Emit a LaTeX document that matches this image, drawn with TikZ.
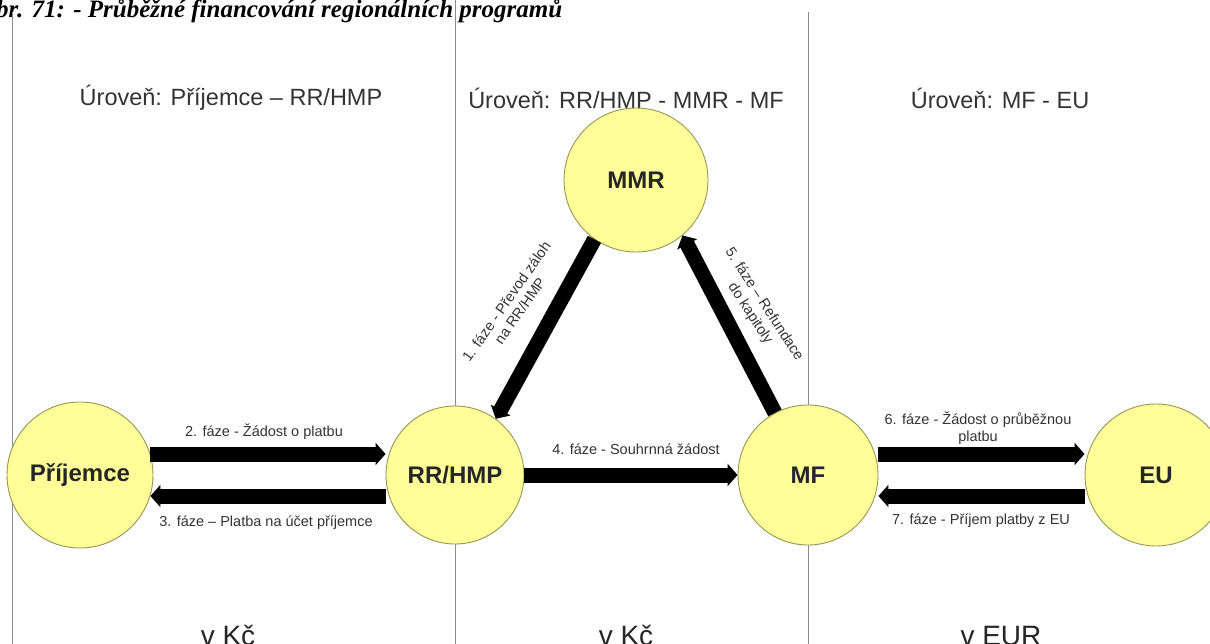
\documentclass[tikz,border=0pt]{standalone}
\usepackage{fontspec}
\setmainfont{Liberation Sans}
\newfontfamily\titlefont{Liberation Serif}
\usetikzlibrary{arrows.meta}
\definecolor{circfill}{HTML}{FFFF99}
\definecolor{circline}{HTML}{9A9450}
\definecolor{sepline}{HTML}{8C8C8C}
\definecolor{txt}{HTML}{333333}
\tikzset{
  party/.style={circle,draw=circline,line width=0.9pt,fill=circfill,minimum size=#1,inner sep=0pt,font=\bfseries\fontsize{24}{26}\selectfont,text=black!85},
  flow/.style={line width=15pt,draw=black,-{Triangle[width=22pt,length=10pt]}},
  flowlbl/.style={font=\fontsize{14.5}{16.5}\selectfont,text=txt,align=center,inner sep=1pt},
  hdr/.style={font=\fontsize{23.5}{26}\selectfont,text=txt},
  bot/.style={font=\fontsize{28}{30}\selectfont,text=black!85,anchor=base},
  sep/.style={draw=sepline,line width=0.9pt}
}
\begin{document}
\begin{tikzpicture}[x=1pt,y=-1pt]
\useasboundingbox[fill=white] (0,0) rectangle (1210,644);
% title (cut at top)
\node[anchor=base west,inner sep=0pt,font=\titlefont\bfseries\itshape\fontsize{25}{28}\selectfont] (title) at (-22,18) {Obr. 71: - Průběžné financování regionálních programů};
% separators
\coordinate (s1t) at (12,12); \coordinate (s1b) at (12,644);
\coordinate (s2t) at (455,0); \coordinate (s2b) at (455,644);
\coordinate (s3t) at (808,12); \coordinate (s3b) at (808,644);
\draw[sep] (s1t) -- (s1b);
\draw[sep] (s2t) -- (s2b);
\draw[sep] (s3t) -- (s3b);
% headers
\node[hdr] (h1) at (231,98) {Úroveň: Příjemce – RR/HMP};
\node[hdr] (h2) at (626,98) {Úroveň: RR/HMP - MMR - MF};
\node[hdr] (h3) at (1000,98) {Úroveň: MF - EU};
% circles
\node[party=144pt] (mmr) at (636,180) {MMR};
\node[party=146pt] (pri) at (80,475) {Příjemce};
\node[party=138pt] (rr) at (455,475) {RR/HMP};
\node[party=140pt] (mf) at (808,475) {MF};
\node[party=142pt] (eu) at (1156,475) {EU};
% horizontal flows
\draw[flow] ([yshift=21pt,xshift=-3pt]pri.east) -- ([yshift=21pt]rr.west);
\draw[flow] ([yshift=-21pt]rr.west) -- ([yshift=-21pt,xshift=-3pt]pri.east);
\draw[flow] (rr.east) -- (mf.west);
\draw[flow] ([yshift=21pt]mf.east) -- ([yshift=21pt]eu.west);
\draw[flow] ([yshift=-21pt]eu.west) -- ([yshift=-21pt]mf.east);
% diagonal flows
\draw[flow] (mmr.-125) -- (rr.54);
\draw[flow] (mf.118) -- (mmr.-50);
% labels
\node[flowlbl] (l2) at (264,432) {2. fáze - Žádost o platbu};
\node[flowlbl] (l3) at (266,523) {3. fáze – Platba na účet příjemce};
\node[flowlbl] (l4) at (636,449) {4. fáze - Souhrnná žádost};
\node[flowlbl] (l6) at (978,428) {6. fáze - Žádost o průběžnou\\platbu};
\node[flowlbl] (l7) at (981,521) {7. fáze - Příjem platby z EU};
\node[flowlbl,rotate=55] (l1) at (513,306) {1. fáze - Převod záloh\\na RR/HMP};
\node[flowlbl,rotate=-57] (l5) at (757,309) {5. fáze – Refundace\\do kapitoly};
% bottom
\node[bot] (b1) at (228,645) {v Kč};
\node[bot] (b2) at (626,645) {v Kč};
\node[bot] (b3) at (1001,645) {v EUR};
\end{tikzpicture}
\end{document}
